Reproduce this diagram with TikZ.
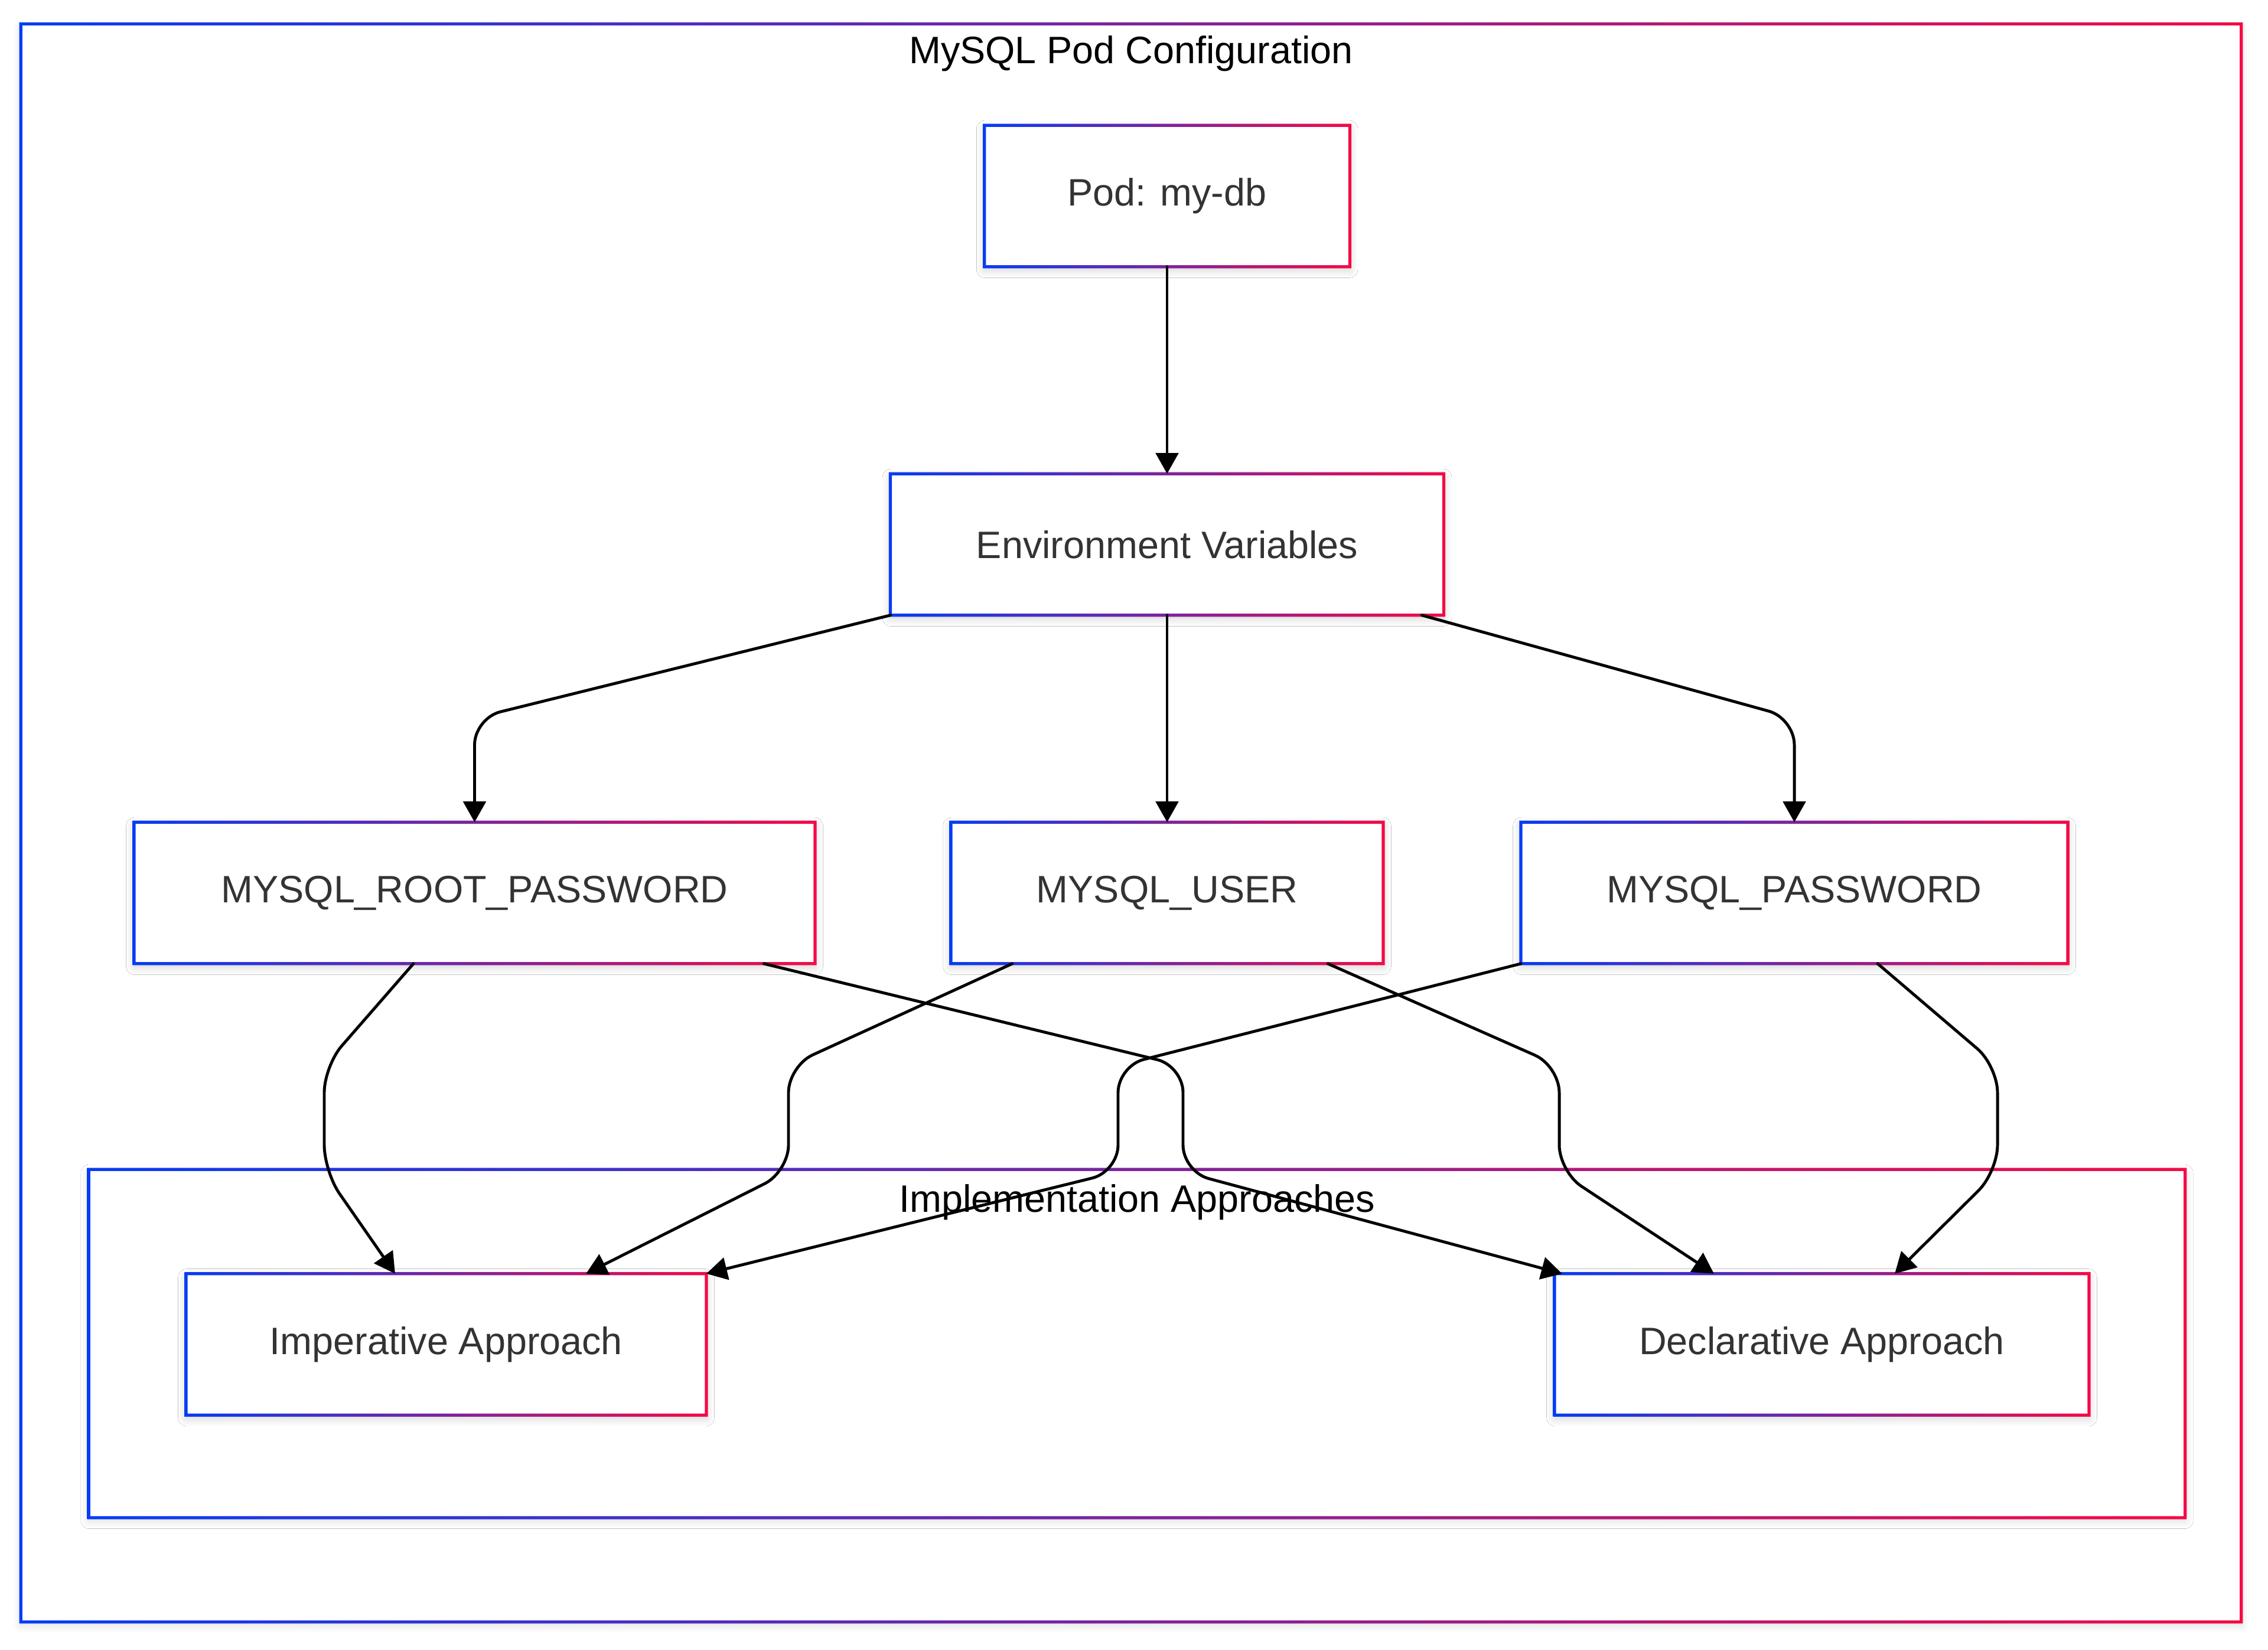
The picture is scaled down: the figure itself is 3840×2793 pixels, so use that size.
\documentclass[tikz,border=0pt]{standalone}
\usepackage{fontspec}
\setmainfont{Liberation Sans}
\usetikzlibrary{arrows.meta,shadows.blur}
\definecolor{myblue}{RGB}{5,60,245}
\definecolor{myred}{RGB}{245,10,70}
\definecolor{txtgray}{RGB}{51,51,51}
% gradient border round a node
\newcommand{\gradframe}[1]{%
  \shade[left color=myblue, right color=myred, even odd rule]
    ([shift={(-0.75pt,-0.75pt)}]#1.south west) rectangle ([shift={(0.75pt,0.75pt)}]#1.north east)
    ([shift={(0.75pt,0.75pt)}]#1.south west) rectangle ([shift={(-0.75pt,-0.75pt)}]#1.north east);}

\begin{document}
\begin{tikzpicture}[x=0.01cm, y=-0.01cm, font=\fontsize{18.4}{22}\selectfont, line cap=round, line join=round,
	box/.style={rectangle, fill=white, text=txtgray, minimum height=2.38cm, inner sep=0pt,
		blur shadow={shadow blur steps=5, shadow xshift=0pt, shadow yshift=-1.5pt, shadow blur radius=4pt, shadow opacity=20}},
	cluster/.style={rectangle, fill=white, inner sep=0pt,
		blur shadow={shadow blur steps=5, shadow xshift=0pt, shadow yshift=-1.5pt, shadow blur radius=4pt, shadow opacity=15}},
	ctitle/.style={text=black, inner sep=0pt},
	edge/.style={-{Triangle[length=0.35cm,width=0.38cm]}, line width=1.4pt, rounded corners=0.45cm}]
		\useasboundingbox (0,0) rectangle (3840,2793);
		% clusters
		\node[cluster, minimum width=37.56cm, minimum height=27.03cm] (cfg) at (1915,1393.5) {};
		\gradframe{cfg}
		\node[cluster, minimum width=35.46cm, minimum height=5.88cm] (impl) at (1925,2275) {};
		\gradframe{impl}
		\node[ctitle] (cfgtitle) at (1915,91) {MySQL Pod Configuration};
		\node[ctitle] (impltitle) at (1925,2036) {Implementation Approaches};
		% nodes
		\node[box, minimum width=6.17cm] (pod) at (1976,332) {Pod: my-db};
		\node[box, minimum width=9.35cm] (env) at (1976,922) {Environment Variables};
		\node[box, minimum width=11.51cm] (root) at (803.5,1512) {MYSQL\_ROOT\_PASSWORD};
		\node[box, minimum width=7.30cm] (user) at (1976,1512) {MYSQL\_USER};
		\node[box, minimum width=9.24cm] (pass) at (3038,1512) {MYSQL\_PASSWORD};
		\node[box, minimum width=8.79cm] (imp) at (755.5,2276.5) {Imperative Approach};
		\node[box, minimum width=9.03cm] (dec) at (3084.5,2276.5) {Declarative Approach};
		\gradframe{pod} \gradframe{env} \gradframe{root} \gradframe{user}
		\gradframe{pass} \gradframe{imp} \gradframe{dec}
		% connectors
		\draw[edge] (pod) -- (env);
		\draw[edge] (env.south west) -- ([yshift=1.76cm]root.north) -- (root.north);
		\draw[edge] (env) -- (user);
		\draw[edge] ([xshift=-0.37cm]env.south east) -- ([yshift=1.76cm]pass.north) -- (pass.north);
		\draw[edge] ([xshift=-1.035cm]root.south) -- (549,1805) -- (549,1984) -- ([xshift=-0.865cm]imp.north);
		\draw[edge] ([xshift=4.895cm]root.south) -- (2003,1805) -- (2003,1984) -- ([xshift=-4.395cm]dec.north);
		\draw[edge] ([xshift=-2.62cm]user.south) -- (1335,1805) -- (1335,1984) -- ([xshift=2.365cm]imp.north);
		\draw[edge] ([xshift=2.72cm]user.south) -- (2640,1805) -- (2640,1984) -- ([xshift=-1.825cm]dec.north);
		\draw[edge] (pass.south west) -- (1893,1805) -- (1893,1984) -- (imp.north east);
		\draw[edge] ([xshift=1.41cm]pass.south) -- (3382,1805) -- (3382,1984) -- ([xshift=1.235cm]dec.north);
\end{tikzpicture}
\end{document}
